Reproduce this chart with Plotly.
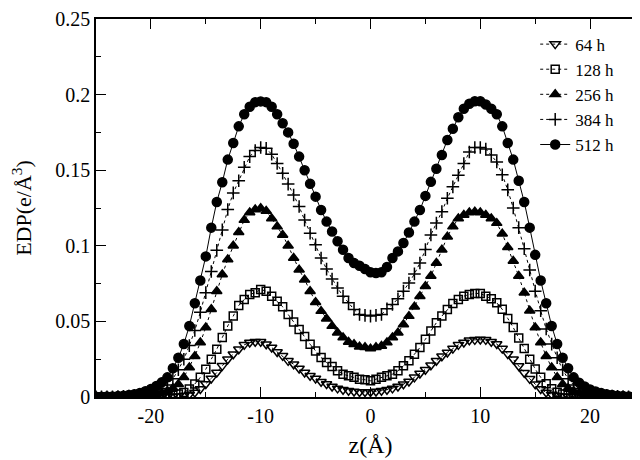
import plotly.graph_objects as go

# z positions (Angstrom), 0.5 A spacing from -25 to 25
z = [i * 0.5 for i in range(-50, 51)]

# axis tick labels (plain hyphen minus as in the reference)
x_tickvals = [-20, -10, 0, 10, 20]
x_ticktext = ["-20", "-10", "0", "10", "20"]
y_tickvals = [0, 0.05, 0.1, 0.15, 0.2, 0.25]
y_ticktext = ["0", "0.05", "0.1", "0.15", "0.2", "0.25"]

# EDP values (e/A^3), one list per exposure time
edp_64h = [
    0.0001, 0.0001, 0.0001, 0.0001, 0.0001, 0.0001, 0.0001, 0.0001, 0.0001, 0.0001,
    0.0001, 0.0001, 0.0002, 0.0002, 0.0003, 0.0005, 0.0009, 0.0017, 0.003, 0.0053,
    0.0086, 0.0123, 0.0162, 0.0206, 0.025, 0.0283, 0.0316, 0.0345, 0.036, 0.0365,
    0.0365, 0.0349, 0.0327, 0.0298, 0.0272, 0.0239, 0.0217, 0.0189, 0.0162, 0.014,
    0.0123, 0.0101, 0.0086, 0.007, 0.0057, 0.0048, 0.0042, 0.0036, 0.0033, 0.0033,
    0.0033,
    0.0036, 0.0042, 0.0048, 0.0057, 0.007, 0.0085, 0.0103, 0.013, 0.0155, 0.018,
    0.021, 0.024, 0.027, 0.0295, 0.032, 0.0345, 0.036, 0.0375, 0.0378, 0.038,
    0.0378, 0.0365, 0.035, 0.032, 0.0285, 0.025, 0.0205, 0.016, 0.012, 0.0085,
    0.0053, 0.003, 0.0017, 0.0009, 0.0005, 0.0003, 0.0002, 0.0002, 0.0001, 0.0001,
    0.0001, 0.0001, 0.0001, 0.0001, 0.0001, 0.0001, 0.0001, 0.0001, 0.0001, 0.0001,
]
edp_128h = [
    0.0001, 0.0001, 0.0001, 0.0001, 0.0001, 0.0001, 0.0001, 0.0001, 0.0001, 0.0001,
    0.0002, 0.0003, 0.0005, 0.0008, 0.0012, 0.002, 0.003, 0.0053, 0.0086, 0.013,
    0.0184, 0.025, 0.0316, 0.0393, 0.047, 0.0535, 0.0605, 0.0645, 0.0678, 0.069,
    0.0711, 0.070, 0.0667, 0.0634, 0.0597, 0.0546, 0.0496, 0.0447, 0.040, 0.0349,
    0.0305, 0.0261, 0.0228, 0.0202, 0.0173, 0.0151, 0.014, 0.013, 0.0118, 0.0114,
    0.0107,
    0.0118, 0.013, 0.014, 0.0151, 0.0173, 0.0206, 0.0239, 0.0283, 0.0327, 0.0382,
    0.0436, 0.0491, 0.0535, 0.0579, 0.0618, 0.0645, 0.0667, 0.0678, 0.0685, 0.0685,
    0.0667, 0.065, 0.0623, 0.058, 0.052, 0.046, 0.039, 0.032, 0.025, 0.0185,
    0.013, 0.0088, 0.0055, 0.0032, 0.002, 0.0012, 0.0008, 0.0005, 0.0003, 0.0002,
    0.0001, 0.0001, 0.0001, 0.0001, 0.0001, 0.0001, 0.0001, 0.0001, 0.0001, 0.0001,
]
edp_256h = [
    0.0001, 0.0001, 0.0001, 0.0002, 0.0002, 0.0003, 0.0004, 0.0005, 0.0007, 0.001,
    0.0014, 0.002, 0.0028, 0.004, 0.0058, 0.0085, 0.013, 0.0195, 0.027, 0.036,
    0.046, 0.058, 0.070, 0.081, 0.091, 0.100, 0.109, 0.117, 0.122, 0.124,
    0.1248, 0.123, 0.118, 0.1127, 0.1072, 0.100, 0.0919, 0.0842, 0.0776, 0.070,
    0.0627, 0.0568, 0.0518, 0.0469, 0.0425, 0.0393, 0.0364, 0.0349, 0.0333, 0.0329,
    0.032,
    0.0329, 0.0338, 0.036, 0.0393, 0.0425, 0.048, 0.0535, 0.0597, 0.0667, 0.0732,
    0.080, 0.0886, 0.0974, 0.106, 0.1127, 0.118, 0.1204, 0.122, 0.1226, 0.122,
    0.1204, 0.118, 0.115, 0.108, 0.099, 0.090, 0.080, 0.069, 0.057, 0.046,
    0.036, 0.027, 0.0195, 0.013, 0.0085, 0.0058, 0.004, 0.0028, 0.002, 0.0014,
    0.001, 0.0007, 0.0005, 0.0004, 0.0003, 0.0002, 0.0002, 0.0001, 0.0001, 0.0001,
]
edp_384h = [
    0.0001, 0.0001, 0.0002, 0.0002, 0.0003, 0.0004, 0.0006, 0.0009, 0.0013, 0.0019,
    0.0028, 0.004, 0.0057, 0.008, 0.012, 0.018, 0.025, 0.034, 0.044, 0.056,
    0.069, 0.083, 0.097, 0.1105, 0.124, 0.135, 0.143, 0.152, 0.159, 0.163,
    0.165, 0.1645, 0.1605, 0.1544, 0.148, 0.1408, 0.1336, 0.126, 0.117, 0.1083,
    0.1007, 0.0919, 0.0846, 0.078, 0.0721, 0.0667, 0.0623, 0.0579, 0.0546, 0.054,
    0.0535,
    0.054, 0.0546, 0.0583, 0.0612, 0.065, 0.070, 0.0754, 0.0814, 0.0886, 0.0975,
    0.1072, 0.115, 0.1226, 0.1314, 0.139, 0.1467, 0.1544, 0.162, 0.165, 0.165,
    0.164, 0.160, 0.1555, 0.147, 0.137, 0.125, 0.112, 0.098, 0.084, 0.070,
    0.057, 0.045, 0.035, 0.026, 0.018, 0.012, 0.008, 0.0057, 0.004, 0.0028,
    0.0019, 0.0013, 0.0009, 0.0006, 0.0004, 0.0003, 0.0002, 0.0002, 0.0001, 0.0001,
]
edp_512h = [
    0.0002, 0.0002, 0.0003, 0.0004, 0.0006, 0.0009, 0.0013, 0.0019, 0.0027, 0.0038,
    0.0053, 0.0073, 0.0098, 0.013, 0.019, 0.026, 0.035, 0.047, 0.062, 0.077,
    0.093, 0.112, 0.129, 0.142, 0.157, 0.168, 0.179, 0.187, 0.192, 0.195,
    0.1955, 0.195, 0.192, 0.187, 0.181, 0.175, 0.1675, 0.159, 0.150, 0.141,
    0.1325, 0.1237, 0.116, 0.1095, 0.103, 0.0974, 0.0919, 0.0886, 0.0868, 0.0846,
    0.0825,
    0.082, 0.0825, 0.086, 0.0919, 0.0963, 0.1018, 0.1088, 0.116, 0.1237, 0.133,
    0.1423, 0.151, 0.160, 0.170, 0.1774, 0.185, 0.1906, 0.194, 0.1956, 0.1956,
    0.1934, 0.1906, 0.187, 0.179, 0.168, 0.157, 0.143, 0.129, 0.112, 0.094,
    0.077, 0.062, 0.047, 0.035, 0.026, 0.019, 0.013, 0.0095, 0.007, 0.005,
    0.0037, 0.0027, 0.0019, 0.0013, 0.0009, 0.0006, 0.0004, 0.0003, 0.0002, 0.0002,
]

series = [
    ("64 h", edp_64h, "triangle-down-open", 9, "dot"),
    ("128 h", edp_128h, "square-open", 8, "dot"),
    ("256 h", edp_256h, "triangle-up", 9, "dot"),
    ("384 h", edp_384h, "cross-thin-open", 9, "dot"),
    ("512 h", edp_512h, "circle", 9, "solid"),
]

fig = go.Figure()
for name, vals, symbol, size, dash in series:
    fig.add_trace(go.Scatter(
        x=z, y=vals, name=name, mode="lines+markers",
        line=dict(color="black", width=1, dash=dash),
        marker=dict(symbol=symbol, size=size, color="black",
                    line=dict(color="black", width=1.5)),
    ))

font = "Liberation Serif"
axis_common = dict(
    showline=True, linecolor="black", linewidth=1.5, mirror="allticks",
    ticks="inside", ticklen=10, tickwidth=1.2, tickcolor="black",
    showgrid=False, zeroline=False, automargin=False,
    ticklabeloverflow="allow",
    tickfont=dict(family=font, size=20, color="black"),
)

fig.update_layout(
    width=640, height=460,
    margin=dict(l=88, r=3, t=11, b=71),
    paper_bgcolor="white", plot_bgcolor="white",
    font=dict(family=font, color="black"),
    showlegend=True,
    legend=dict(x=0.8, y=0.98, xanchor="left", yanchor="top",
                bgcolor="rgba(0,0,0,0)", font=dict(family=font, size=17, color="black"),
                tracegroupgap=0, itemwidth=30),
    xaxis=dict(range=[-25, 25], tickvals=x_tickvals, ticktext=x_ticktext,
               minor=dict(dtick=5, tick0=0, ticks="inside", ticklen=5, tickcolor="black"),
               title=dict(text="z(Å)", font=dict(family=font, size=24, color="black"), standoff=10),
               **axis_common),
    yaxis=dict(range=[0, 0.25], tickvals=y_tickvals, ticktext=y_ticktext,
               minor=dict(dtick=0.025, tick0=0, ticks="inside", ticklen=5, tickcolor="black"),
               title=dict(text="EDP(e/Å<sup>3</sup>)", font=dict(family=font, size=22, color="black"), standoff=20),
               **axis_common),
)

fig.write_html("out.html")
